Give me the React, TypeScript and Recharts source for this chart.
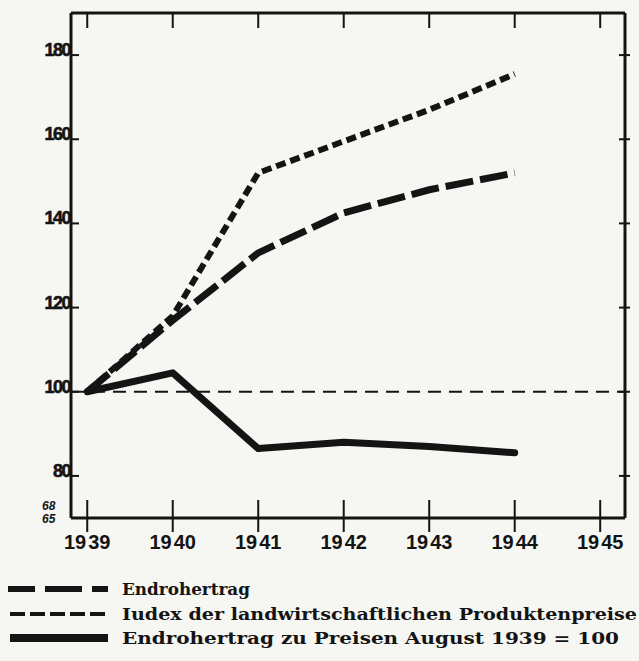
import React from 'react';
import { LineChart, Line, XAxis, YAxis, ReferenceLine } from 'recharts';

// values (1939 = 100)
const years = [1939, 1940, 1941, 1942, 1943, 1944];
const endrohertrag = [100, 117, 133, 142.5, 148, 152];
const preisindex = [100, 118, 152, 159.5, 167, 175.5];
const ertragZuPreisen1939 = [100, 104.5, 86.5, 88, 87, 85.5];

const xTicks = [1939, 1940, 1941, 1942, 1943, 1944, 1945];
const yTicks = [80, 100, 120, 140, 160, 180];

const legendLabels = [
  'Endrohertrag',
  'Iudex der landwirtschaftlichen Produktenpreise',
  'Endrohertrag zu Preisen August 1939 = 100',
];

const INK = '#141414';
const PAPER = '#f6f6f3';

const data = years.map((year, i) => ({
  year,
  roh: endrohertrag[i],
  index: preisindex[i],
  real: ertragZuPreisen1939[i],
}));

const BottomTick = (props: any) => {
  const { x, y, payload } = props;
  const s = String(payload.value);
  return (
    <g>
      <line x1={x} x2={x} y1={y - 18} y2={y + 14} stroke={INK} strokeWidth={2} />
      <text x={x - 1} y={y + 31} textAnchor="end" fontSize={20} fontWeight="bold"
        fontFamily="Liberation Sans, Arial, sans-serif" fill={INK}>{s.slice(0, 2)}</text>
      <text x={x + 1} y={y + 31} textAnchor="start" fontSize={20} fontWeight="bold"
        fontFamily="Liberation Sans, Arial, sans-serif" fill={INK}>{s.slice(2)}</text>
    </g>
  );
};

const TopTick = (props: any) => {
  const { x, y } = props;
  return <line x1={x} x2={x} y1={y} y2={y + 15} stroke={INK} strokeWidth={2} />;
};

const LeftTick = (props: any) => {
  const { x, y, payload } = props;
  return (
    <g>
      <line x1={x} x2={x + 8} y1={y} y2={y} stroke={INK} strokeWidth={2} />
      <text x={x - 1} y={y + 1} textAnchor="end" fontSize={18} fontWeight="bold" letterSpacing={-1.5}
        fontFamily="Liberation Sans, Arial, sans-serif" fill={INK} stroke={INK} strokeWidth={0.6}>{payload.value}</text>
    </g>
  );
};

const RightTick = (props: any) => {
  const { x, y } = props;
  return <line x1={x - 6} x2={x + 5} y1={y} y2={y} stroke={INK} strokeWidth={2} />;
};

const LegendBlock = () => (
  <svg width={639} height={101} style={{ display: 'block' }}>
    <g stroke={INK}>
      <line x1={8} x2={35} y1={29} y2={29} strokeWidth={6} />
      <line x1={45} x2={82} y1={29} y2={29} strokeWidth={6} />
      <line x1={92} x2={108} y1={29} y2={29} strokeWidth={6} />
      <line x1={10} x2={108} y1={54} y2={54} strokeWidth={4} strokeDasharray="15 5" />
      <line x1={10} x2={108} y1={78} y2={78} strokeWidth={8} />
    </g>
    {legendLabels.map((label, i) => (
      <text key={label} x={122} y={[35, 60, 84][i]} fontSize={17} fontWeight="bold"
        fontFamily="DejaVu Serif, Liberation Serif, serif" fill={INK}
        textLength={[128, 515, 497][i]} lengthAdjust="spacingAndGlyphs">{label}</text>
    ))}
  </svg>
);

export default function App() {
  return (
    <div style={{ position: 'absolute', left: 0, top: 0, width: 639, height: 661, background: PAPER }}>
      <LineChart width={639} height={560} data={data} margin={{ top: 12, right: 13, bottom: 0, left: 0 }}>
        <XAxis xAxisId="b" dataKey="year" type="number" domain={[1938.81, 1945.29]} allowDataOverflow
          ticks={xTicks} interval={0} height={42} tickSize={0} tickMargin={0} tickLine={false}
          axisLine={{ stroke: INK, strokeWidth: 3 }} tick={<BottomTick />} />
        <XAxis xAxisId="t" orientation="top" dataKey="year" type="number" domain={[1938.81, 1945.29]}
          allowDataOverflow ticks={xTicks} interval={0} height={1} tickSize={0} tickMargin={0}
          tickLine={false} axisLine={{ stroke: INK, strokeWidth: 3 }} tick={<TopTick />} />
        <YAxis yAxisId="l" type="number" domain={[70, 190]} allowDataOverflow ticks={yTicks}
          interval={0} width={71} tickSize={0} tickMargin={0} tickLine={false}
          axisLine={{ stroke: INK, strokeWidth: 3 }} tick={<LeftTick />} />
        <YAxis yAxisId="r" orientation="right" type="number" domain={[70, 190]} allowDataOverflow
          ticks={yTicks} interval={0} width={1} tickSize={0} tickMargin={0} tickLine={false}
          axisLine={{ stroke: INK, strokeWidth: 3 }} tick={<RightTick />} />
        <ReferenceLine xAxisId="b" yAxisId="l" y={100} stroke={INK} strokeWidth={2.2} strokeDasharray="13 8" />
        <Line xAxisId="b" yAxisId="l" type="linear" dataKey="real" stroke={INK} strokeWidth={7}
          dot={false} strokeLinecap="round" strokeLinejoin="round" isAnimationActive={false} />
        <Line xAxisId="b" yAxisId="l" type="linear" dataKey="roh" stroke={INK} strokeWidth={7}
          strokeDasharray="28 7" dot={false} isAnimationActive={false} />
        <Line xAxisId="b" yAxisId="l" type="linear" dataKey="index" stroke={INK} strokeWidth={6}
          strokeDasharray="10 5" dot={false} isAnimationActive={false} />
      </LineChart>
      <LegendBlock />
      <svg width={40} height={30} style={{ position: 'absolute', left: 38, top: 497 }}>
        <text x={4} y={13} fontSize={12} fontWeight="bold" fontStyle="italic"
          fontFamily="Liberation Sans, Arial, sans-serif" fill={INK}>68</text>
        <text x={4} y={26} fontSize={12} fontWeight="bold" fontStyle="italic"
          fontFamily="Liberation Sans, Arial, sans-serif" fill={INK}>65</text>
      </svg>
    </div>
  );
}
